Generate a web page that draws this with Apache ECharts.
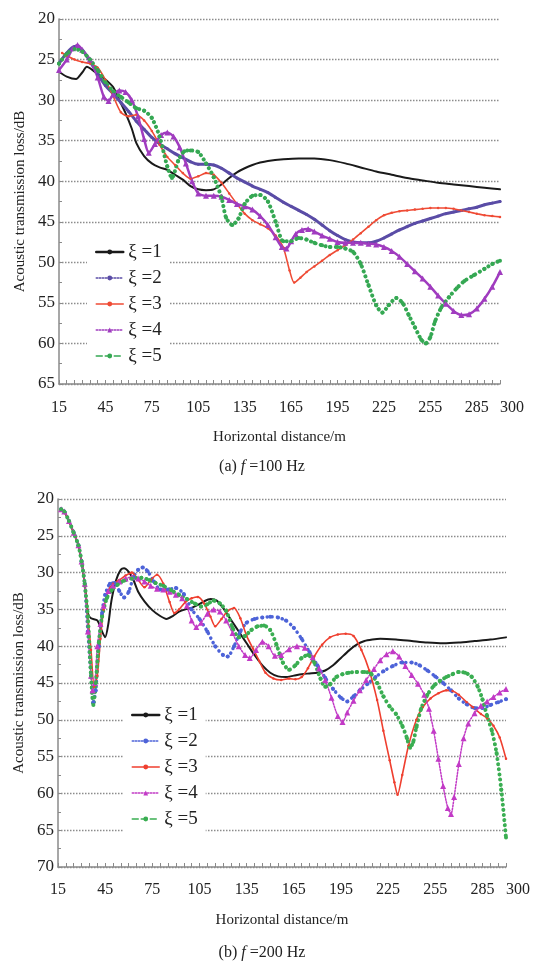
<!DOCTYPE html>
<html>
<head>
<meta charset="utf-8">
<script src="https://cdn.jsdelivr.net/npm/echarts@6/dist/echarts.min.js"></script>
<style>
  html, body { margin: 0; padding: 0; background: #fff; }
  #chart { width: 536px; height: 962px; }
</style>
</head>
<body>
<div id="chart"></div>
<script>
// x tick labels shown under both panels
var xLabels = [15, 45, 75, 105, 135, 165, 195, 225, 255, 285, 300];
var names = ['ξ =1', 'ξ =2', 'ξ =3', 'ξ =4', 'ξ =5'];

// (a) f = 100 Hz, [distance m, loss dB]
var a1 = [[15,26.5],[20,27.1],[26,27.4],[30,26.6],[33,25.9],[38,26.5],[44,27.3],[50,28.4],[54,30.0],[58,31.6],[62,33.5],[65,35.3],[70,36.9],[75,37.8],[80,38.3],[85,38.6],[90,39.2],[95,39.8],[100,40.6],[105,41.0],[110,41.1],[115,41.0],[120,40.4],[125,39.6],[130,38.9],[135,38.4],[140,38.0],[145,37.7],[150,37.5],[160,37.3],[170,37.2],[180,37.2],[190,37.4],[200,37.8],[210,38.3],[220,38.8],[230,39.2],[240,39.6],[250,39.9],[260,40.2],[270,40.4],[280,40.6],[290,40.8],[300,41.0]];
var a2 = [[15,25.5],[20,24.2],[25,23.4],[30,23.8],[35,25.2],[40,26.8],[45,28.2],[50,29.2],[55,30.3],[60,31.4],[65,32.6],[70,33.6],[75,34.6],[80,35.4],[85,36.0],[90,36.6],[95,37.1],[100,37.6],[105,37.9],[110,37.9],[115,38.0],[120,38.4],[125,39.0],[130,39.6],[135,40.1],[140,40.6],[145,41.0],[150,41.4],[155,42.0],[160,42.6],[165,43.1],[170,43.6],[175,44.1],[180,44.7],[185,45.4],[190,46.1],[195,46.7],[200,47.2],[205,47.5],[210,47.6],[215,47.6],[220,47.4],[225,47.0],[230,46.5],[235,46.0],[240,45.6],[245,45.2],[250,44.9],[255,44.6],[260,44.3],[265,44.0],[270,43.8],[275,43.6],[280,43.4],[285,43.2],[290,42.9],[295,42.7],[300,42.5]];
var a3 = [[17,24.2],[20,24.5],[25,25.0],[30,25.3],[35,25.5],[40,26.0],[45,27.5],[50,29.5],[55,31.5],[60,32.0],[65,31.8],[70,32.5],[75,33.8],[80,35.5],[85,37.0],[90,38.0],[95,39.0],[100,39.7],[105,39.4],[110,39.0],[115,39.2],[120,40.2],[125,41.5],[130,42.8],[135,44.0],[140,44.8],[145,45.3],[150,45.8],[155,46.7],[160,48.2],[164,51.0],[167,52.5],[171,51.9],[175,51.2],[180,50.5],[185,49.8],[190,49.1],[195,48.5],[200,47.9],[205,47.2],[210,46.4],[215,45.6],[220,44.8],[225,44.2],[230,43.9],[235,43.7],[240,43.6],[245,43.5],[250,43.4],[255,43.3],[260,43.3],[265,43.3],[270,43.4],[275,43.6],[280,43.8],[285,44.0],[290,44.2],[295,44.3],[300,44.4]];
var a4 = [[15,26.3],[20,25.0],[24,23.6],[27,23.2],[30,23.8],[35,25.0],[40,27.2],[44,29.6],[47,30.1],[50,29.3],[54,28.8],[58,29.0],[62,30.0],[66,32.0],[70,34.8],[73,36.5],[77,35.4],[81,34.3],[85,34.0],[89,34.5],[93,35.8],[97,37.8],[101,40.0],[105,41.5],[110,41.8],[115,41.8],[120,41.9],[125,42.3],[130,42.8],[135,43.1],[140,43.5],[145,44.3],[150,45.4],[155,46.9],[159,48.1],[162,48.3],[165,47.4],[168,46.5],[172,46.0],[176,45.9],[180,46.2],[185,46.7],[190,47.1],[195,47.5],[200,47.6],[205,47.6],[210,47.6],[215,47.7],[220,47.8],[225,48.1],[230,48.6],[235,49.3],[240,50.2],[245,51.1],[250,52.0],[255,53.0],[260,54.1],[265,55.1],[270,56.0],[275,56.5],[280,56.4],[285,55.7],[290,54.5],[295,53.0],[300,51.2]];
var a5 = [[15,25.5],[20,24.3],[25,23.7],[30,24.0],[35,25.0],[40,26.3],[45,27.8],[50,28.9],[55,29.6],[60,30.3],[65,31.0],[70,31.3],[75,32.2],[80,34.5],[85,38.2],[88,39.6],[92,37.5],[96,36.3],[100,36.2],[105,36.4],[110,37.8],[115,39.5],[120,42.0],[123,44.5],[127,45.4],[131,44.6],[135,42.8],[140,41.8],[145,41.7],[150,42.5],[155,45.0],[160,47.4],[165,47.4],[170,47.0],[175,47.2],[180,47.6],[185,47.9],[190,48.1],[195,48.1],[200,48.3],[205,48.7],[210,50.2],[215,52.8],[220,55.3],[224,56.2],[228,55.3],[233,54.4],[237,55.0],[241,56.5],[245,58.0],[249,59.5],[252,60.0],[255,59.2],[258,57.3],[262,55.6],[267,54.3],[272,53.2],[277,52.3],[283,51.6],[290,50.8],[295,50.2],[300,49.8]];

// (b) f = 200 Hz, all curves share the first steep drop
var bStart = [[17,21.4],[19,21.7],[22,23.0],[25,24.6],[28,26.3],[30,28.5],[32,31.5]];
var b1 = bStart.concat([[34,35.5],[36,36.2],[40,36.5],[43,38.0],[45,38.8],[47,37.0],[49,33.8],[52,31.0],[55,29.6],[57,29.4],[60,29.9],[63,31.0],[66,32.6],[70,33.9],[75,35.1],[80,35.9],[84,36.3],[88,35.9],[92,35.3],[96,35.0],[100,34.8],[104,34.4],[108,33.9],[112,33.6],[116,33.8],[120,34.8],[125,36.4],[130,38.0],[135,39.6],[140,41.2],[145,42.6],[150,43.6],[155,44.1],[160,44.2],[165,44.0],[170,43.8],[175,43.7],[180,43.6],[185,43.3],[190,42.6],[195,41.6],[200,40.6],[205,39.8],[210,39.3],[215,39.1],[220,39.0],[230,39.1],[240,39.3],[250,39.5],[260,39.6],[270,39.5],[280,39.3],[290,39.1],[300,38.8]]);
var b2 = bStart.concat([[34,38],[36,44],[37.5,47.6],[39,46],[41,40],[43,35.5],[45,33],[48,31.5],[51,31.4],[54,32.5],[57,33.4],[60,32.6],[63,30.6],[66,29.6],[69,29.3],[72,29.8],[76,31.2],[80,32.3],[85,32.3],[90,32.1],[95,32.9],[100,35.0],[105,36.3],[110,38.0],[115,40.0],[120,41.2],[123,41.4],[127,40.0],[131,38.0],[135,36.8],[140,36.3],[145,36.1],[150,36.0],[155,36.1],[160,36.5],[165,37.5],[170,39.0],[175,40.8],[180,42.6],[185,44.3],[190,45.8],[195,47.0],[199,47.5],[203,46.8],[207,46.0],[212,45.1],[217,44.2],[222,43.4],[228,42.7],[234,42.2],[240,42.2],[245,42.6],[250,43.3],[255,44.1],[260,45.0],[265,46.0],[270,47.1],[275,47.9],[280,48.4],[285,48.4],[290,48.0],[295,47.6],[300,47.2]]);
var b3 = bStart.concat([[34,36],[36,40.5],[38,45.5],[40,44],[42,39],[44,35],[47,32.5],[50,31.5],[54,31.0],[58,30.4],[62,30.0],[66,31.0],[70,32.0],[74,31.0],[78,30.3],[82,31.5],[86,34.0],[89,35.5],[92,35.0],[96,34.0],[100,33.5],[104,33.3],[108,34.2],[112,36.0],[115,37.3],[119,36.3],[123,35.2],[127,34.8],[131,36.2],[135,38.6],[139,40.3],[143,42.0],[147,43.6],[152,44.4],[157,44.6],[162,44.4],[166,44.5],[170,44.2],[174,43.0],[178,41.4],[183,39.8],[188,38.8],[193,38.4],[198,38.3],[203,38.6],[208,40.5],[213,43.3],[218,47.3],[222,51.5],[226,55.5],[229,58.5],[231,60.2],[234,57.5],[238,53.5],[243,50.0],[247,48.3],[252,47.1],[257,46.4],[262,46.0],[266,46.1],[270,46.6],[275,47.6],[279,48.3],[284,49.2],[288,49.8],[292,50.8],[296,52.4],[300,55.3]]);
var b4 = bStart.concat([[34,38],[36,44],[37,46],[38.5,45],[40,40],[42,37],[44,34.5],[47,32.5],[50,31.8],[54,31.2],[58,30.8],[62,30.6],[66,30.8],[70,31.2],[74,31.8],[78,32.2],[82,32.3],[86,32.6],[90,33.0],[94,33.5],[97,34.5],[100,36.5],[103,37.4],[106,36.8],[110,35.6],[114,35.0],[118,35.3],[122,36.5],[126,38.2],[130,40.0],[134,41.2],[137,41.6],[141,40.5],[145,39.4],[149,40.0],[153,41.3],[157,41.2],[162,40.4],[167,40.0],[172,40.2],[177,41.5],[181,43.0],[185,44.6],[189,47.0],[193,49.5],[196,50.3],[199,49.0],[203,47.4],[207,46.0],[211,44.6],[216,43.1],[220,41.9],[224,41.1],[228,40.7],[232,41.4],[236,42.7],[240,43.9],[244,45.1],[248,46.6],[251,48.5],[254,51.5],[257,55.3],[260,59.0],[263,62.0],[265,62.8],[267,60.5],[270,56.0],[273,52.5],[276,50.5],[280,49.1],[284,48.1],[288,47.5],[292,46.9],[296,46.3],[300,45.8]]);
var b5 = bStart.concat([[34,36],[36,44],[37.5,48],[39,45],[41,39.5],[43,36],[46,33.5],[49,32.4],[53,31.6],[57,31.1],[62,30.8],[68,30.7],[73,31.0],[77,31.4],[82,31.8],[87,32.4],[92,33.0],[97,33.6],[102,34.2],[106,34.6],[110,34.3],[114,33.8],[118,34.2],[122,35.2],[126,37.5],[130,38.8],[134,38.6],[138,37.8],[142,37.3],[146,37.2],[150,37.8],[154,39.8],[158,42.2],[162,43.2],[166,42.6],[170,41.6],[174,41.2],[178,42.2],[182,44.4],[185,45.5],[188,45.2],[192,44.2],[196,43.8],[200,43.6],[205,43.5],[210,43.5],[214,43.7],[218,45.0],[222,46.8],[226,48.2],[230,49.2],[234,50.8],[237,52.5],[239,53.8],[241,53.0],[243,51.0],[246,48.5],[250,46.6],[254,45.4],[258,44.7],[262,44.2],[266,43.8],[270,43.5],[274,43.6],[278,44.1],[282,45.5],[285,47.2],[288,49.5],[291,51.5],[294,54.5],[297,59.5],[300,66.0]]);

var FONT = '"Liberation Serif", "DejaVu Serif", serif';
var AXIS = '#8a8a8a';

function xAxis(gi, margin) {
  return {
    type: 'value', gridIndex: gi, min: 15, max: 300, interval: 15,
    axisLine: { lineStyle: { color: AXIS, width: 1.5 } },
    axisTick: { inside: true, length: 4, lineStyle: { color: AXIS } },
    minorTick: { show: true, splitNumber: 3, length: 4, lineStyle: { color: AXIS } },
    splitLine: { show: false },
    axisLabel: {
      color: '#222', fontFamily: FONT, fontSize: 16, margin: margin,
      showMinLabel: true, showMaxLabel: true, alignMaxLabel: 'left',
      formatter: function (v) { return xLabels.indexOf(v) >= 0 ? String(v) : ''; }
    },
    name: 'Horizontal distance/m', nameLocation: 'middle', nameGap: 46,
    nameTextStyle: { color: '#222', fontFamily: FONT, fontSize: 15 }
  };
}

function yAxis(gi, max) {
  return {
    type: 'value', gridIndex: gi, inverse: true, min: 20, max: max, interval: 5,
    axisLine: { show: true, lineStyle: { color: AXIS, width: 1.5 } },
    axisTick: { show: true, inside: true, length: 3, lineStyle: { color: AXIS } },
    minorTick: { show: true, splitNumber: 2, length: 3, lineStyle: { color: AXIS } },
    splitLine: { show: true, lineStyle: { color: '#8c8c8c', width: 1.3, type: [1.5, 1.5] } },
    axisLabel: { color: '#222', fontFamily: FONT, fontSize: 17, margin: 4 },
    name: 'Acoustic transmission loss/dB', nameLocation: 'middle', nameGap: 28,
    nameTextStyle: { color: '#222', fontFamily: FONT, fontSize: 15 }
  };
}

// styles per curve; legend icons follow the original key
var styleA = [
  { color: '#1a1a1a', width: 2, type: 'solid', symbol: 'none', size: 0 },
  { color: '#5a4ca6', width: 3, type: 'solid', symbol: 'circle', size: 3 },
  { color: '#ef4b35', width: 1.6, type: 'solid', symbol: 'circle', size: 2.5 },
  { color: '#a03cbf', width: 2.5, type: 'solid', symbol: 'triangle', size: 6 },
  { color: '#35a853', width: 4, type: [0.1, 5], symbol: 'circle', size: 4 }
];
var styleB = [
  { color: '#1a1a1a', width: 2, type: 'solid', symbol: 'none', size: 0 },
  { color: '#4d63d8', width: 3.5, type: [0.1, 5], symbol: 'circle', size: 4 },
  { color: '#ef3f2f', width: 1.6, type: 'solid', symbol: 'circle', size: 2.5 },
  { color: '#c23ac6', width: 1.5, type: 'dotted', symbol: 'triangle', size: 6 },
  { color: '#3aae52', width: 4, type: [0.1, 5], symbol: 'circle', size: 4 }
];
var legendLine = ['solid', 'dotted', 'solid', 'dotted', 'dashed'];

function makeSeries(prefix, gi, datas, styles) {
  return datas.map(function (d, i) {
    var s = styles[i];
    return {
      type: 'line', name: prefix + names[i], xAxisIndex: gi, yAxisIndex: gi,
      data: d, smooth: 0.25, clip: true,
      symbol: s.symbol, symbolSize: s.size, showSymbol: s.symbol !== 'none',
      itemStyle: { color: s.color },
      lineStyle: { color: s.color, width: s.width, type: s.type, cap: 'round' },
      emphasis: { disabled: true }
    };
  });
}

function legend(prefix, left, top, styles) {
  return {
    orient: 'vertical', left: left, top: top,
    backgroundColor: '#fff', padding: [6, 8, 6, 8],
    itemWidth: 27, itemHeight: 6, itemGap: 6,
    textStyle: { color: '#222', fontFamily: FONT, fontSize: 19, lineHeight: 20 },
    formatter: function (n) { return n.slice(prefix.length); },
    data: names.map(function (n, i) {
      return {
        name: prefix + n,
        lineStyle: { width: i === 0 ? 2.5 : 1.5, type: legendLine[i], color: styles[i].color },
        itemStyle: { color: styles[i].color }
      };
    })
  };
}

function caption(letter, freq, y) {
  return {
    type: 'text', x: 262, y: y,
    style: {
      text: '{n|(' + letter + ') }{i|f}{n| =' + freq + ' Hz}',
      align: 'center', verticalAlign: 'middle',
      rich: {
        n: { fontFamily: FONT, fontSize: 16, fill: '#222' },
        i: { fontFamily: FONT, fontSize: 16, fontStyle: 'italic', fill: '#222' }
      }
    }
  };
}

var chart = echarts.init(document.getElementById('chart'), null, { renderer: 'canvas' });
chart.setOption({
  animation: false,
  backgroundColor: '#fff',
  grid: [
    { left: 59, top: 19, width: 441, height: 365 },
    { left: 58, top: 499, width: 448, height: 368 }
  ],
  xAxis: [xAxis(0, 16), xAxis(1, 15)],
  yAxis: [yAxis(0, 65), yAxis(1, 70)],
  legend: [legend('a:', 87, 236, styleA), legend('b:', 123, 699, styleB)],
  series: makeSeries('a:', 0, [a1, a2, a3, a4, a5], styleA)
    .concat(makeSeries('b:', 1, [b1, b2, b3, b4, b5], styleB)),
  graphic: [caption('a', 100, 467), caption('b', 200, 953)]
});
</script>
</body>
</html>
